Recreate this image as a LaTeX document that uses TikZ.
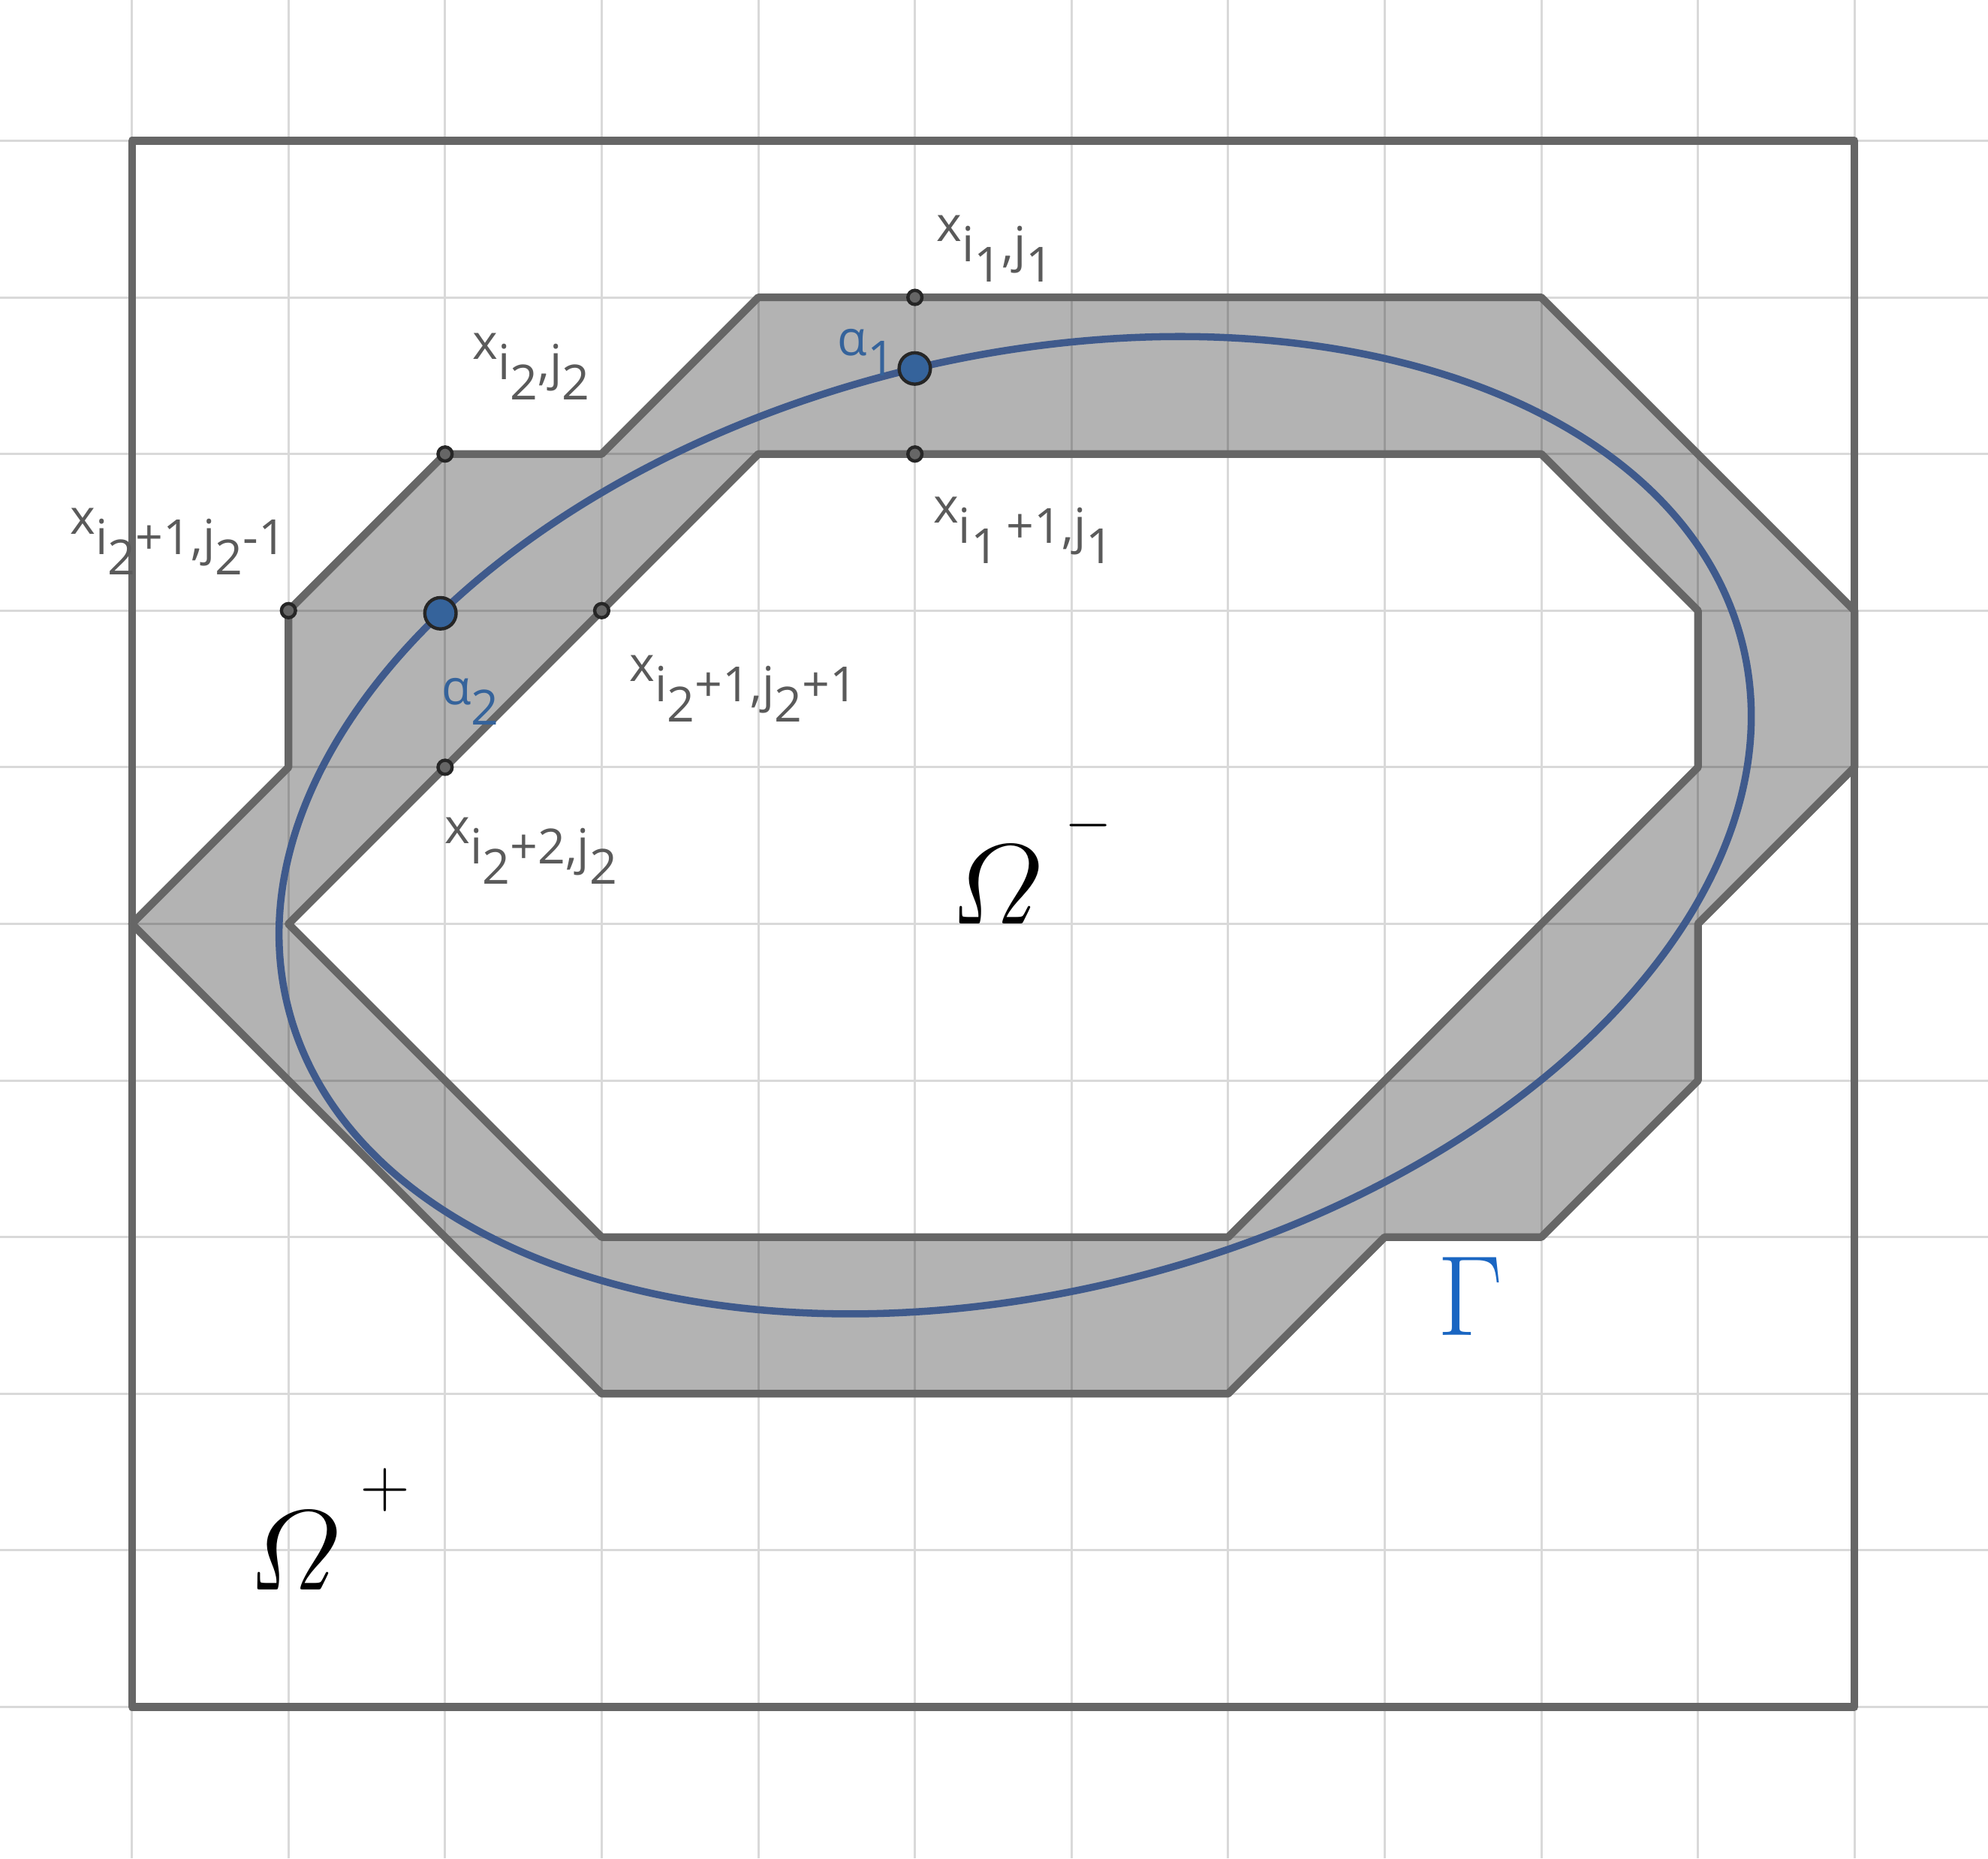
\documentclass[tikz,border=0pt]{standalone}
\usepackage{amsmath}
\usepackage{fontspec}
\newfontfamily\geofont{Open Sans}
\usetikzlibrary{calc}
\definecolor{bandfill}{HTML}{B3B3B3}
\definecolor{edgegray}{HTML}{666666}
\definecolor{curveblue}{HTML}{3F5A8C}
\definecolor{ptblue}{HTML}{35639B}
\definecolor{labgray}{HTML}{5A5A5A}
\definecolor{gammablue}{HTML}{1A66C2}
\newcommand\dn[1]{\raisebox{-0.42em}{#1}}
\tikzset{
  gridline/.style={black, opacity=0.15, line width=0.4pt},
  edge/.style={edgegray, line width=1.4pt, line join=round},
  curve/.style={curveblue, line width=1.3pt},
  gpt/.style={circle, draw=black!85, fill=edgegray, line width=0.6pt, inner sep=0pt, minimum size=0.09cm},
  apt/.style={circle, draw=black!85, fill=ptblue, line width=0.6pt, inner sep=0pt, minimum size=0.2cm},
  xlab/.style={anchor=base west, inner sep=0pt, text=labgray, font=\geofont\fontsize{8.8}{10}\selectfont},
  alab/.style={xlab, text=ptblue},
  biglab/.style={anchor=base west, inner sep=0pt, font=\fontsize{20}{24}\selectfont},
}

\begin{document}
\begin{tikzpicture}
		%%%%% START %%%%%
		\useasboundingbox (-0.842,-0.966) rectangle (11.852,10.899);
		\fill[white] (-0.842,-0.966) rectangle (11.852,10.899);
		
		% band
		\fill[bandfill, even odd rule]
			(4,9) -- (9,9) -- (11,7) -- (11,6) -- (10,5) -- (10,4) -- (9,3) -- (8,3) -- (7,2) -- (3,2) -- (0,5) -- (1,6) -- (1,7) -- (2,8) -- (3,8) -- cycle
			(4,8) -- (9,8) -- (10,7) -- (10,6) -- (7,3) -- (3,3) -- (1,5) -- cycle;
		
		% grid
		\draw[gridline]
			\foreach \i in {0,...,11}{(\i,-0.966) -- (\i,10.899)}
			\foreach \j in {0,...,10}{(-0.842,\j) -- (11.852,\j)};
		
		\draw[edge] (0,0) rectangle (11,10);
		\draw[edge] (4,9) -- (9,9) -- (11,7) -- (11,6) -- (10,5) -- (10,4) -- (9,3) -- (8,3) -- (7,2) -- (3,2) -- (0,5) -- (1,6) -- (1,7) -- (2,8) -- (3,8) -- cycle;
		\draw[edge] (4,8) -- (9,8) -- (10,7) -- (10,6) -- (7,3) -- (3,3) -- (1,5) -- cycle;
		
		% Gamma
		\begin{scope}[shift={(5.64,5.63)}, rotate=14]
			\draw[curve] (0,0) ellipse [x radius=4.786, y radius=2.985];
			\coordinate (a1) at (89:4.786 and 2.985);
			\coordinate (a2) at (132.5:4.786 and 2.985);
		\end{scope}
		
		\node[gpt] (p11) at (5,9) {};
		\node[gpt] (p21) at (5,8) {};
		\node[gpt] (p22) at (2,8) {};
		\node[gpt] (p3m) at (1,7) {};
		\node[gpt] (p3p) at (3,7) {};
		\node[gpt] (p42) at (2,6) {};
		\node[apt] (alpha1) at (a1) {};
		\node[apt] (alpha2) at (a2) {};
		
		\node[xlab] (l11) at (5.13,9.36) {x\dn{i\dn{1},j\dn{1}}};
		\node[xlab] (l21) at (5.11,7.56) {x\dn{i\dn{1}\,+1,j\dn{1}}};
		\node[xlab] (l22) at (2.17,8.607) {x\dn{i\dn{2},j\dn{2}}};
		\node[xlab] (l3m) at (-0.40,7.49) {x\dn{i\dn{2}+1,j\dn{2}-1}};
		\node[xlab] (l3p) at (3.17,6.55) {x\dn{i\dn{2}+1,j\dn{2}+1}};
		\node[xlab] (l42) at (1.99,5.514) {x\dn{i\dn{2}+2,j\dn{2}}};
		\node[alab] (la1) at (4.50,8.63) {α\dn{1}};
		\node[alab] (la2) at (1.97,6.40) {α\dn{2}};
		
		\node[biglab] (omin) at (5.22,5.0) {$\varOmega$\hspace{0.14cm}\raisebox{0.53cm}{\fontsize{11}{12}\selectfont$-$}};
		\node[biglab] (oplus) at (0.74,0.75) {$\varOmega$\hspace{0.12cm}\raisebox{0.53cm}{\fontsize{12}{13}\selectfont$+$}};
		\node[biglab, text=gammablue] (gam) at (8.33,2.375) {$\Gamma$};
		%%%%% END %%%%%
\end{tikzpicture}
\end{document}
